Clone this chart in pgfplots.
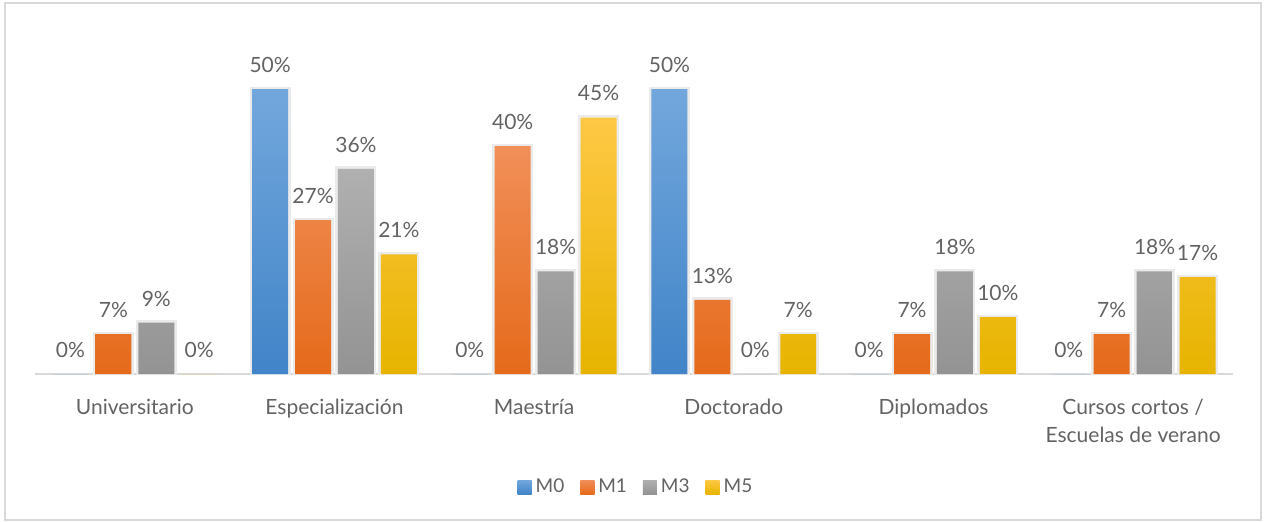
\documentclass[border=0pt]{standalone}
\usepackage{fontspec}
\setmainfont{Lato}
\usepackage{pgfplots}
\pgfplotsset{compat=1.18}
\definecolor{txt}{HTML}{636363}
\definecolor{frame}{HTML}{D9D9D9}
\definecolor{halo}{HTML}{EAEAEA}
\definecolor{bT}{HTML}{72A7DC}\definecolor{bB}{HTML}{4184C8}
\definecolor{oT}{HTML}{F18F59}\definecolor{oB}{HTML}{E56A1A}
\definecolor{gT}{HTML}{B0B0B0}\definecolor{gB}{HTML}{939393}
\definecolor{yT}{HTML}{FFC845}\definecolor{yM}{HTML}{FFC000}\definecolor{yB}{HTML}{E6B400}
\pgfplotstableread{
x M0 M1 M3 M5
0 0 7 9 0
1 50 27 36 21
2 0 40 18 45
3 50 13 0 7
4 0 7 18 10
5 0 7 18 17
}\data
\begin{document}
\begin{tikzpicture}
\useasboundingbox (0,0) rectangle (632pt,260.5pt);
\draw[frame, line width=0.8pt] (2.5pt,0.5pt) rectangle (630.5pt,259pt);
\begin{axis}[
  at={(17.5pt,73.5pt)}, anchor=south west,
  scale only axis, width=599pt, height=171pt,
  xmin=-0.5, xmax=5.5, ymin=0, ymax=60,
  ybar, bar width=0.18,
  /pgf/number format/assume math mode=true,
  axis x line*=bottom, axis y line=none,
  x axis line style={draw=frame, line width=1pt},
  xtick={0,...,5}, xtick style={draw=none}, ytick=\empty,
  xticklabels={Universitario, Especialización, Maestría, Doctorado, Diplomados, {Cursos cortos /\\Escuelas de verano}},
  xticklabel style={align=center, font=\fontsize{10.5}{14}\selectfont, text=txt, anchor=north, inner sep=0pt, yshift=-8pt},
  every node near coord/.append style={font=\fontsize{10.5}{12}\selectfont, text=txt, inner sep=0pt, yshift=8pt, anchor=south},
  nodes near coords={\pgfmathprintnumber[fixed,precision=0]{\pgfplotspointmeta}\%},
  legend image code/.code={\path[#1,draw=none] (0pt,-3.5pt) rectangle (7pt,3.5pt);},
  legend style={at={(0.5,0)}, anchor=center, yshift=-56.5pt, xshift=1.5pt, draw=none, fill=none,
    font=\fontsize{9.5}{11}\selectfont, text=txt, legend columns=-1,
    /tikz/every even column/.append style={column sep=6pt}},
]
% halos
\addplot[bar shift=-0.3225, draw=halo, line width=2.5pt, fill=none, forget plot, nodes near coords={}] coordinates {(1,50) (3,50)};
\addplot[bar shift=-0.1075, draw=halo, line width=2.5pt, fill=none, forget plot, nodes near coords={}] coordinates {(0,7) (1,27) (2,40) (3,13) (4,7) (5,7)};
\addplot[bar shift=0.1075, draw=halo, line width=2.5pt, fill=none, forget plot, nodes near coords={}] coordinates {(0,9) (1,36) (2,18) (4,18) (5,18)};
\addplot[bar shift=0.3225, draw=halo, line width=2.5pt, fill=none, forget plot, nodes near coords={}] coordinates {(1,21) (2,45) (3,7) (4,10) (5,17)};
% bars
\addplot[bar shift=-0.3225, draw=none, top color=bT, bottom color=bB] table[x=x,y=M0]{\data};
\addplot[bar shift=-0.1075, draw=none, top color=oT, bottom color=oB] table[x=x,y=M1]{\data};
\addplot[bar shift=0.1075, draw=none, top color=gT, bottom color=gB] table[x=x,y=M3]{\data};
\addplot[bar shift=0.3225, draw=none, top color=yT, middle color=yM, bottom color=yB] table[x=x,y=M5]{\data};
\legend{M0,M1,M3,M5}
\end{axis}
\end{tikzpicture}
\end{document}
